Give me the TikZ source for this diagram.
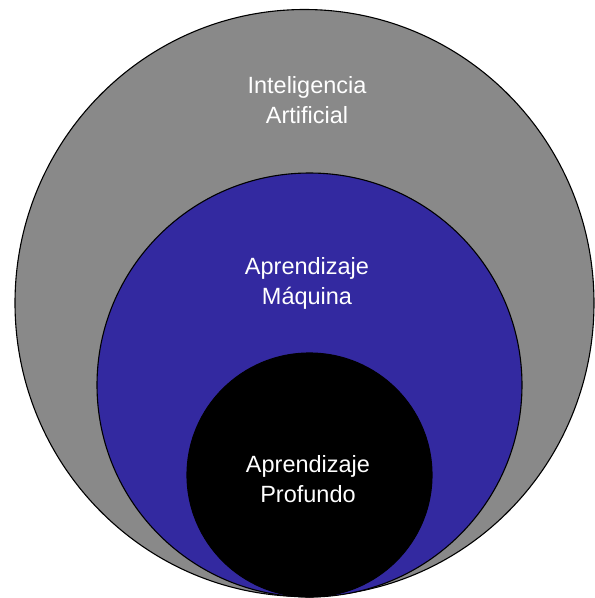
\documentclass[tikz,border=0pt]{standalone}
\usepackage{fontspec}
\setmainfont{Liberation Sans}
\definecolor{aigray}{RGB}{137,137,137}
\definecolor{mlblue}{RGB}{51,41,160}
\begin{document}
\begin{tikzpicture}[x=1pt,y=-1pt,
  ring/.style={draw=black,line width=1.1pt},
  label/.style={text=white,align=center,font=\fontsize{23.5}{30}\selectfont}]
\useasboundingbox (0,0) rectangle (595,598);
% nested fields
\draw[ring,fill=aigray] (304.5,303) ellipse [x radius=289.5,y radius=293.5];
\draw[ring,fill=mlblue] (309.5,385) ellipse [x radius=212.5,y radius=212];
\draw[ring,fill=black] (309.5,475) ellipse [x radius=122.5,y radius=122];
% labels
\node[label] (ia) at (307,100) {Inteligencia\\Artificial};
\node[label] (ml) at (307,283) {Aprendizaje\\Máquina};
\node[label] (dl) at (308,479) {Aprendizaje\\Profundo};
\end{tikzpicture}
\end{document}
